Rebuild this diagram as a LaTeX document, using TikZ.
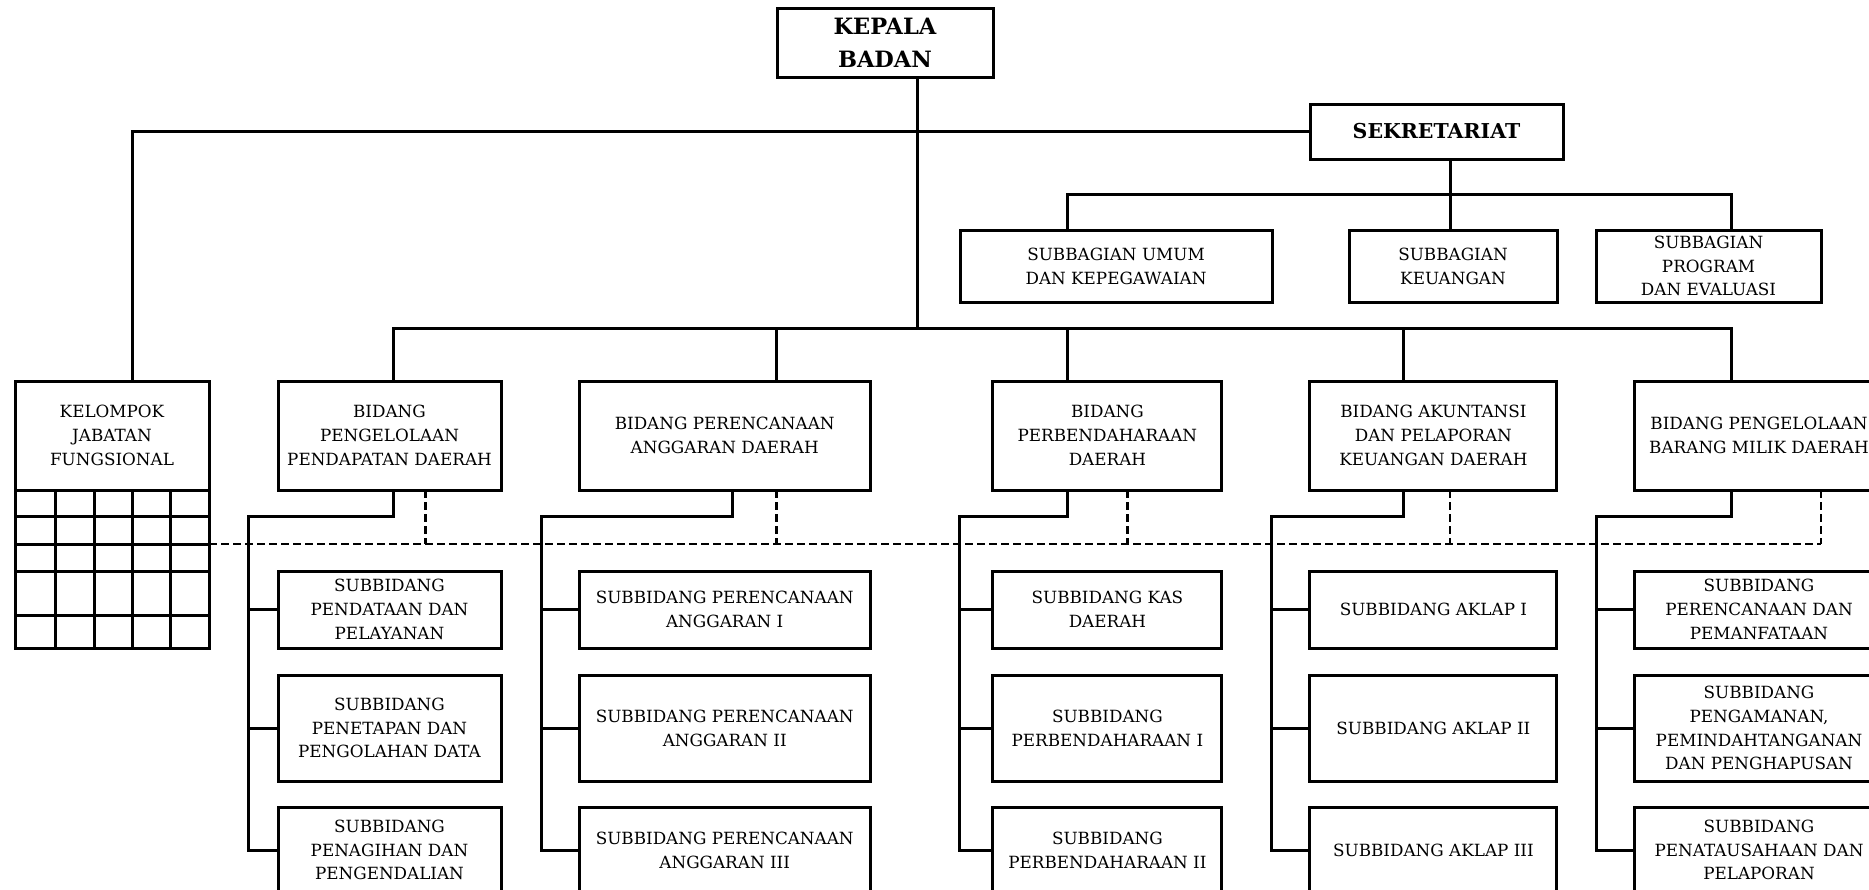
\documentclass[tikz,border=0pt]{standalone}
\usepackage{fontspec}
\setmainfont{DejaVu Serif}
\usetikzlibrary{positioning,calc}

\begin{document}
\begin{tikzpicture}[
	x=1pt, y=-1pt,
	% kotak dasar untuk semua jabatan
	org_box/.style={
		draw=black, line width=3pt, rectangle,
		align=center, inner sep=1pt, outer sep=0pt,
		font=\fontsize{16.8}{23.8}\selectfont
	},
	% kotak kepala dan sekretariat (tebal)
	head_box/.style={org_box, font=\fontsize{22.5}{33}\selectfont\bfseries},
	sek_box/.style={org_box, font=\fontsize{20.5}{24}\selectfont\bfseries},
	% tinggi baris subbidang
	row_a/.style={minimum height=77pt},
	row_b/.style={minimum height=106pt},
	row_c/.style={minimum height=86pt},
	% garis komando dan garis koordinasi
	org_line/.style={draw=black, line width=3pt},
	dash_line/.style={draw=black, line width=2.6pt, dash pattern=on 8pt off 4pt}
	]
	\useasboundingbox (0,0) rectangle (1869,889);
	\clip (0,0) rectangle (1869,889);
	
	% Pimpinan
	\node[head_box, minimum width=216pt, minimum height=69pt] (kb) at (885,42.5) {KEPALA\\BADAN};
	\node[sek_box, minimum width=253pt, minimum height=55pt] (sek) at (1436.5,131.5) {SEKRETARIAT};
	
	% Subbagian di bawah sekretariat
	\node[org_box, minimum width=312pt, minimum height=72pt] (sb_umum) at (1116,266) {SUBBAGIAN UMUM\\DAN KEPEGAWAIAN};
	\node[org_box, minimum width=208pt, minimum height=72pt] (sb_keu) at (1453,266) {SUBBAGIAN\\KEUANGAN};
	\node[org_box, minimum width=225pt, minimum height=72pt] (sb_prog) at (1708.5,266) {SUBBAGIAN\\PROGRAM\\DAN EVALUASI};
	
	% Baris bidang
	\node[org_box, minimum width=194pt, minimum height=109pt] (kjf) at (112,435.5) {KELOMPOK\\JABATAN\\FUNGSIONAL};
	\node[org_box, minimum width=223pt, minimum height=109pt] (b1) at (389.5,435.5) {BIDANG\\PENGELOLAAN\\PENDAPATAN DAERAH};
	\node[org_box, minimum width=291pt, minimum height=109pt] (b2) at (724.7,435.5) {BIDANG PERENCANAAN\\ANGGARAN DAERAH};
	\node[org_box, minimum width=229pt, minimum height=109pt] (b3) at (1107.4,435.5) {BIDANG\\PERBENDAHARAAN\\DAERAH};
	\node[org_box, minimum width=247pt, minimum height=109pt] (b4) at (1433.4,435.5) {BIDANG AKUNTANSI\\DAN PELAPORAN\\KEUANGAN DAERAH};
	\node[org_box, minimum width=250pt, minimum height=109pt] (b5) at (1759,435.5) {BIDANG PENGELOLAAN\\BARANG MILIK DAERAH};
	
	% Subbidang
	\node[org_box, row_a, minimum width=223pt, below=81pt of b1] (s11) {SUBBIDANG\\PENDATAAN DAN\\PELAYANAN};
	\node[org_box, row_b, minimum width=223pt, below=27pt of s11] (s12) {SUBBIDANG\\PENETAPAN DAN\\PENGOLAHAN DATA};
	\node[org_box, row_c, minimum width=223pt, below=26pt of s12] (s13) {SUBBIDANG\\PENAGIHAN DAN\\PENGENDALIAN};
	
	\node[org_box, row_a, minimum width=291pt, below=81pt of b2] (s21) {SUBBIDANG PERENCANAAN\\ANGGARAN I};
	\node[org_box, row_b, minimum width=291pt, below=27pt of s21] (s22) {SUBBIDANG PERENCANAAN\\ANGGARAN II};
	\node[org_box, row_c, minimum width=291pt, below=26pt of s22] (s23) {SUBBIDANG PERENCANAAN\\ANGGARAN III};
	
	\node[org_box, row_a, minimum width=229pt, below=81pt of b3] (s31) {SUBBIDANG KAS\\DAERAH};
	\node[org_box, row_b, minimum width=229pt, below=27pt of s31] (s32) {SUBBIDANG\\PERBENDAHARAAN I};
	\node[org_box, row_c, minimum width=229pt, below=26pt of s32] (s33) {SUBBIDANG\\PERBENDAHARAAN II};
	
	\node[org_box, row_a, minimum width=247pt, below=81pt of b4] (s41) {SUBBIDANG AKLAP I};
	\node[org_box, row_b, minimum width=247pt, below=27pt of s41] (s42) {SUBBIDANG AKLAP II};
	\node[org_box, row_c, minimum width=247pt, below=26pt of s42] (s43) {SUBBIDANG AKLAP III};
	
	\node[org_box, row_a, minimum width=250pt, below=81pt of b5] (s51) {SUBBIDANG\\PERENCANAAN DAN\\PEMANFATAAN};
	\node[org_box, row_b, minimum width=250pt, below=27pt of s51] (s52) {SUBBIDANG\\PENGAMANAN,\\PEMINDAHTANGANAN\\DAN PENGHAPUSAN};
	\node[org_box, row_c, minimum width=250pt, below=26pt of s52] (s53) {SUBBIDANG\\PENATAUSAHAAN DAN\\PELAPORAN};
	
	% Tabel di bawah kelompok jabatan fungsional
	\draw[org_line] (kjf.south west) rectangle ([yshift=-158pt]kjf.south east);
	\foreach \dx in {40,79,117,155}
		\draw[org_line] ([xshift=\dx pt]kjf.south west) -- ++(0,158);
	\foreach \dy in {26,54,81,125}
		\draw[org_line] ([yshift=-\dy pt]kjf.south west) -- ([yshift=-\dy pt]kjf.south east);
	
	% Garis komando utama
	\coordinate (bus_main) at (917,328);
	\draw[org_line] (kb.south -| bus_main) -- (bus_main);
	\draw[org_line] (sek.west) -| ([xshift=20pt]kjf.north);
	\draw[org_line] ([xshift=3.5pt]b1.north) -- ++(0,-53) -| ([xshift=-28pt]b5.north);
	\foreach \n/\s in {b2/52,b3/-40,b4/-30}
		\draw[org_line] ([xshift=\s pt]\n.north) -- ++(0,-53);
	
	% Sekretariat ke subbagian
	\draw[org_line] ([xshift=13.5pt]sek.south) -- ++(0,35);
	\draw[org_line] ([xshift=-49pt]sb_umum.north) -- ++(0,-36) -| ([xshift=22.5pt]sb_prog.north);
	\draw[org_line] ([xshift=-3pt]sb_keu.north) -- ++(0,-36);
	
	% Bidang ke subbidang
	\foreach \b/\a/\d/\g in {1/3.5/36/30, 2/8/52/38, 3/-40/20/33, 4/-30/16.6/38, 5/-28/62/38}{
		\draw[org_line] ([xshift=\a pt]b\b.south) -- ++(0,26) -| ([xshift=-\g pt]s\b3.west) -- (s\b3.west);
		\draw[org_line] (s\b1.west) -- ++(-\g,0);
		\draw[org_line] (s\b2.west) -- ++(-\g,0);
		\draw[dash_line] ([xshift=\d pt]b\b.south) -- ++(0,54);
	}
	
	% Garis koordinasi
	\draw[dash_line] ([yshift=-54pt]kjf.south east) -- ([xshift=62pt,yshift=-54pt]b5.south);
	
\end{tikzpicture}
\end{document}
